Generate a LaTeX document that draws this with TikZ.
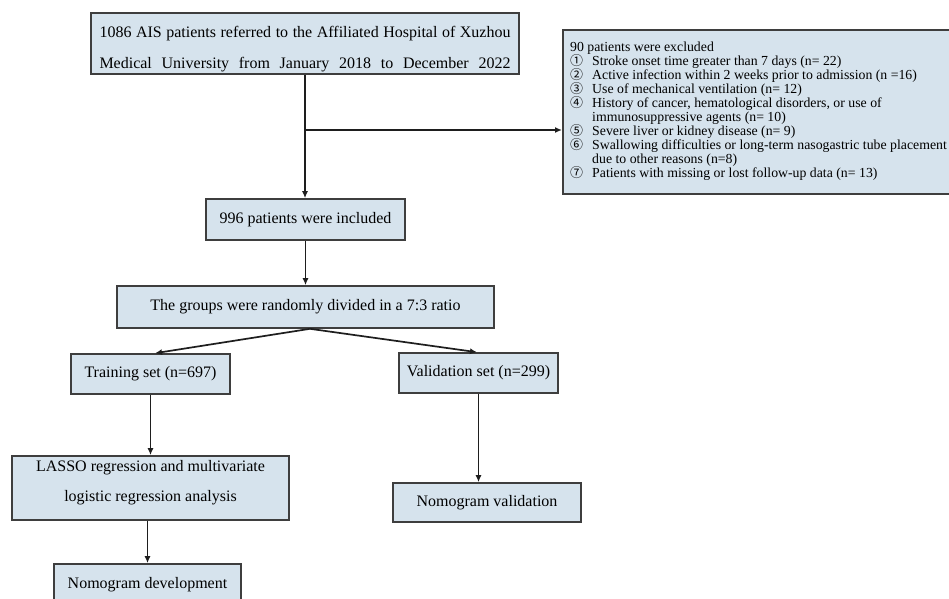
\documentclass[tikz,border=0pt]{standalone}
\usepackage{fontspec}
\setmainfont{Liberation Serif}
\newfontfamily\circfont{Noto Sans CJK SC}
\usetikzlibrary{arrows.meta}
\definecolor{boxfill}{RGB}{214,227,237}
\definecolor{boxline}{RGB}{62,62,62}
\definecolor{arrline}{RGB}{30,30,30}
\tikzset{
  box/.style={draw=boxline, line width=1.6pt, fill=boxfill, inner sep=0pt, align=center,
    font=\fontsize{16}{20}\selectfont},
  boxtext/.style={inner sep=0pt, anchor=base, font=\fontsize{16}{20}\selectfont},
  arr/.style={draw=arrline, line width=1.7pt, -{Latex[length=7pt,width=6pt]}},
}
\newcommand{\ci}[1]{\makebox[22pt][l]{\circfont\fontsize{13}{12}\selectfont #1}}
\begin{document}
\begin{tikzpicture}[x=1pt,y=-1pt]
\useasboundingbox (0,0) rectangle (949,598);
\clip (0,0) rectangle (949,598);
\fill[white] (0,0) rectangle (949,598);

% top box
\node[box, minimum width=428pt, minimum height=61pt] (b1) at (305,43.5) {};
\node[boxtext] (b1a) at (305,37) {\makebox[411pt][s]{1086 AIS patients referred to the Affiliated Hospital of Xuzhou}};
\node[boxtext] (b1b) at (305,68) {\makebox[411pt][s]{Medical University from January 2018 to December 2022}};

% exclusion box
\node[box, anchor=north west, minimum width=395pt, minimum height=164pt] (excl) at (562,29) {};
\node[inner sep=0pt, anchor=north west, align=left, font=\fontsize{13.8}{14}\selectfont] (excltext) at (570,42) {%
90 patients were excluded\\
\ci{①}Stroke onset time greater than 7 days (n= 22)\\
\ci{②}Active infection within 2 weeks prior to admission (n =16)\\
\ci{③}Use of mechanical ventilation (n= 12)\\
\ci{④}History of cancer, hematological disorders, or use of\\
\hspace*{22pt}immunosuppressive agents (n= 10)\\
\ci{⑤}Severe liver or kidney disease (n= 9)\\
\ci{⑥}Swallowing difficulties or long-term nasogastric tube placement\\
\hspace*{22pt}due to other reasons (n=8)\\
\ci{⑦}Patients with missing or lost follow-up data (n= 13)};

\node[box, minimum width=199pt, minimum height=41pt] (b2) at (305.5,219.5) {996 patients were included};
\node[box, minimum width=377pt, minimum height=42pt] (b3) at (305.5,307) {The groups were randomly divided in a 7:3 ratio};
\node[box, minimum width=159pt, minimum height=40pt] (train) at (150.5,374) {Training set (n=697)};
\node[box, minimum width=159pt, minimum height=40pt] (valid) at (478.5,373) {Validation set (n=299)};

\node[box, minimum width=277pt, minimum height=64pt] (lasso) at (150.5,488) {};
\node[boxtext] (l1) at (150.5,471) {LASSO regression and multivariate};
\node[boxtext] (l2) at (150.5,501) {logistic regression analysis};

\node[box, minimum width=188pt, minimum height=39pt] (nval) at (487,502.5) {Nomogram validation};
\node[box, minimum width=187pt, minimum height=42pt] (ndev) at (147.5,585) {Nomogram development};

% connectors
\coordinate (br) at (305,130);
\draw[arr] (b1.south) -- (b1.south |- b2.north);
\draw[arr] (br) -- (br -| excl.west);
\draw[arr] (b2.south) -- (b2.south |- b3.north);
\draw[arr] ([xshift=4.5pt]b3.south) -- ([xshift=4.5pt]train.north);
\draw[arr] ([xshift=4.5pt]b3.south) -- ([xshift=-1.5pt]valid.north);
\draw[arr] (train.south) -- (train.south |- lasso.north);
\draw[arr] (lasso.south -| ndev.north) -- (ndev.north);
\draw[arr] (valid.south) -- (valid.south |- nval.north);
\end{tikzpicture}
\end{document}
